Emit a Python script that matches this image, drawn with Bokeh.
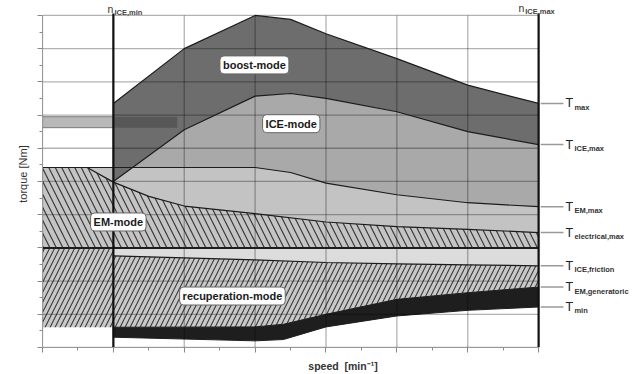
import numpy as np
from bokeh.plotting import figure
from bokeh.models import FixedTicker, Label, Range1d
from bokeh.core.properties import value
from bokeh.embed import file_html
from bokeh.resources import INLINE

FONT = "Liberation Sans"

# ---- axes (grid units) ----
x_ticks = [0, 1, 2, 3, 4, 5, 6, 7]
x_minor = [0.5, 1.5, 2.5, 3.5, 4.5, 5.5, 6.5]
y_ticks = [-3, -2, -1, 0, 1, 2, 3, 4, 5, 6, 7]
y_minor = [-2.5, -1.5, -0.5, 0.5, 1.5, 2.5, 3.5, 4.5, 5.5, 6.5]
speed_marks = [1.0, 7.0]                 # n_ICE,min , n_ICE,max
speed_mark_names = ["ICE,min", "ICE,max"]

# ---- characteristic curves ----
tmax_x = [1, 2, 3, 3.5, 4, 5, 6, 7]
tmax_y = [4.35, 6.0, 7.0, 6.88, 6.45, 5.7, 4.9, 4.35]

tice_x = [1, 2, 3, 3.5, 4, 5, 6, 7]
tice_y = [2.0, 3.56, 4.57, 4.65, 4.5, 4.1, 3.5, 3.11]

tem_x = [0, 3, 3.5, 4, 5, 6, 7]
tem_y = [2.42, 2.42, 2.27, 1.95, 1.6, 1.36, 1.24]

telec_x = [0, 0.63, 1, 1.5, 2, 3, 4, 5, 6, 7]
telec_y = [2.42, 2.42, 1.98, 1.55, 1.26, 1.03, 0.78, 0.64, 0.56, 0.46]

tfric_x = [1, 2, 3, 4, 5, 6, 7]
tfric_y = [-0.24, -0.3, -0.36, -0.44, -0.48, -0.51, -0.54]

tgen_x = [0, 1, 3, 3.4, 4, 5, 6, 7]
tgen_y = [-2.39, -2.39, -2.38, -2.3, -2.0, -1.55, -1.35, -1.18]

tmin_x = [1, 3, 3.4, 4, 5, 6, 7]
tmin_y = [-2.69, -2.8, -2.76, -2.38, -2.05, -1.88, -1.78]

# grey bar (upper left)
bar_edges = [0.0, 1.0, 1.9]
bar_bottom, bar_top = 3.62, 3.95

curve_names = ["max", "ICE,max", "EM,max", "electrical,max", "ICE,friction", "EM,generatoric", "min"]
curve_ends = [tmax_y[-1], tice_y[-1], tem_y[-1], telec_y[-1], tfric_y[-1], tgen_y[-1], tmin_y[-1]]

modes = ["boost-mode", "ICE-mode", "EM-mode", "recuperation-mode"]
mode_x = [2.99, 3.51, 1.07, 2.68]
mode_y = [5.51, 3.74, 0.78, -1.45]

# ---- figure ----
p = figure(width=643, height=374, x_range=Range1d(0, 8.48), y_range=Range1d(-3, 7.45),
           output_backend="svg", toolbar_location=None,
           min_border_left=42, min_border_right=0, min_border_top=0, min_border_bottom=27)
p.outline_line_color = None
p.xgrid.visible = False
p.ygrid.visible = False
p.background_fill_color = "white"
p.border_fill_color = "white"

for ax, tk, mn, bd in ((p.xaxis, x_ticks, x_minor, (0, 7)), (p.yaxis, y_ticks, y_minor, (-3, 7))):
    ax.ticker = FixedTicker(ticks=tk, minor_ticks=mn)
    ax.bounds = bd
    ax.axis_line_color = "#999999"
    ax.major_tick_line_color = "#888888"
    ax.minor_tick_line_color = "#888888"
    ax.major_tick_out = 5
    ax.major_tick_in = 0
    ax.minor_tick_out = 3
    ax.minor_tick_in = 0
    ax.major_label_text_font_size = "1px"
    ax.major_label_text_alpha = 0
    ax.major_label_standoff = 0
    ax.axis_label_text_font = FONT
    ax.axis_label_text_color = "#333333"

p.xaxis.axis_label = "speed\u00a0\u00a0[min\u207b\u00b9]"
p.xaxis.axis_label_text_font_size = "10.5px"
p.xaxis.axis_label_text_font_style = "bold"
p.xaxis.axis_label_standoff = 7
p.yaxis.axis_label = "torque [Nm]"
p.yaxis.axis_label_text_font_size = "11px"
p.yaxis.axis_label_text_font_style = "normal"
p.yaxis.axis_label_standoff = 9

# ---- regions ----
p.patch(tice_x + [tice_x[-1], tice_x[0]], tice_y + [0, 0], fill_color="#a9a9a9", line_color=None)
p.patch(tem_x + [tem_x[-1], tem_x[0]], tem_y + [0, 0], fill_color="#c3c3c3", line_color=None)
p.patch(tmax_x + tice_x[::-1], tmax_y + tice_y[::-1], fill_color="#6d6d6d", line_color=None)
p.patch(telec_x + [telec_x[-1], telec_x[0]], telec_y + [0, 0], fill_color="#c4c4c4", line_color=None,
        hatch_pattern="\\", hatch_color="#3a3a3a", hatch_scale=13, hatch_weight=1.2)
p.patch(tfric_x + tfric_x[::-1], [0] * len(tfric_x) + tfric_y[::-1], fill_color="#dcdcdc", line_color=None)
p.patch([tgen_x[0], tfric_x[0]] + tfric_x + tgen_x[::-1], [0, 0] + tfric_y + tgen_y[::-1],
        fill_color="#c8c8c8", line_color=None,
        hatch_pattern="/", hatch_color="#3a3a3a", hatch_scale=10, hatch_weight=1.1)
gx = np.array(tgen_x)
gy = np.array(tgen_y)
mask = gx >= tmin_x[0]
p.patch(list(gx[mask]) + tmin_x[::-1], list(gy[mask]) + tmin_y[::-1], fill_color="#1e1e1e", line_color="#1e1e1e")

p.quad(left=bar_edges[0], right=bar_edges[1], bottom=bar_bottom, top=bar_top,
       fill_color="#b8b8b8", line_color="#7a7a7a", line_width=1)
p.quad(left=bar_edges[1], right=bar_edges[2], bottom=bar_bottom, top=bar_top,
       fill_color="#575757", line_color=None)

# ---- grid ----
p.segment(x0=x_ticks, y0=y_ticks[0], x1=x_ticks, y1=y_ticks[-1], line_color="black", line_alpha=0.3, line_width=1.3)
p.segment(x0=x_ticks[0], y0=y_ticks, x1=x_ticks[-1], y1=y_ticks, line_color="black", line_alpha=0.3, line_width=1.3)

# ---- boundary lines ----
for xs, ys in ((tmax_x, tmax_y), (tice_x, tice_y), (tem_x, tem_y), (telec_x, telec_y), (tfric_x, tfric_y)):
    p.line(xs, ys, line_color="#1c1c1c", line_width=1.2)
p.segment(x0=x_ticks[0], y0=0, x1=x_ticks[-1], y1=0, line_color="#1c1c1c", line_width=2)
p.segment(x0=speed_marks, y0=y_ticks[0], x1=speed_marks, y1=y_ticks[-1] + 0.06, line_color="#111111", line_width=2.2)

# ---- right-hand curve labels ----
p.segment(x0=7.03, y0=curve_ends, x1=7.35, y1=curve_ends, line_color="#999999", line_width=1.5)
p.text(x=[7.38] * len(curve_ends), y=curve_ends, text=["T"] * len(curve_ends),
       text_font=value(FONT), text_font_size="12.5px", text_color="#222222",
       text_align="left", text_baseline="middle")
p.text(x=[7.505] * len(curve_ends), y=curve_ends, text=curve_names, y_offset=4,
       text_font=value(FONT), text_font_size="7.5px", text_font_style="bold", text_color="#333333",
       text_align="left", text_baseline="middle")

# ---- top speed labels ----
p.text(x=[speed_marks[0] + 0.0, speed_marks[1] - 0.2], y=[7.18, 7.21], text=["n", "n"],
       text_font=value(FONT), text_font_size="10.5px", text_color="#333333",
       text_align="right", text_baseline="alphabetic")
p.text(x=[speed_marks[0] + 0.015, speed_marks[1] - 0.19], y=[7.1, 7.13], text=speed_mark_names,
       text_font=value(FONT), text_font_size="7.5px", text_font_style="bold", text_color="#444444",
       text_align="left", text_baseline="alphabetic")

# ---- mode labels ----
for t, mx, my in zip(modes, mode_x, mode_y):
    p.add_layout(Label(x=mx, y=my, text=t, text_align="center", text_baseline="middle",
                       text_font=FONT, text_font_size="11px", text_font_style="bold", text_color="#1a1a1a",
                       background_fill_color="white", border_line_color="#666666", border_line_width=1,
                       padding=3, border_radius=4))

open("out.html", "w").write(file_html(p, INLINE))
